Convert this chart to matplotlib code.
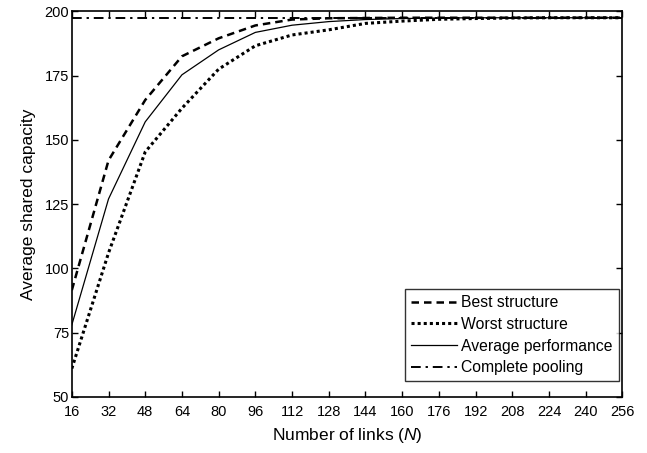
import numpy as np
import matplotlib
matplotlib.use("Agg")
import matplotlib.pyplot as plt

plt.rcParams['font.family'] = ['Liberation Sans', 'DejaVu Sans']
plt.rcParams['mathtext.fontset'] = 'custom'
plt.rcParams['mathtext.rm'] = 'Liberation Sans'
plt.rcParams['mathtext.it'] = 'Liberation Sans:italic'

# valores
links = [16, 32, 48, 64, 80, 96, 112, 128, 144, 160, 176, 192, 208, 224, 240, 256]
best = [91.5, 142, 165.5, 182.5, 189.5, 194.5, 196.8, 197.3, 197.4, 197.5,
        197.5, 197.5, 197.5, 197.5, 197.5, 197.5]
worst = [61, 106, 145.3, 162.3, 177.5, 186.6, 190.8, 192.8, 195.3, 196.2,
         196.9, 197.2, 197.4, 197.5, 197.5, 197.5]
average = [78, 127, 157, 175.3, 185, 191.8, 194.6, 196, 196.8, 197.2,
           197.4, 197.5, 197.5, 197.5, 197.5, 197.5]
pooling = [197.5] * len(links)

fig = plt.figure(figsize=(6.47, 4.53), dpi=100)
ax = fig.add_axes([0.111, 0.124, 0.851, 0.851])

ax.plot(links, best, color="black", lw=1.8, ls=(0, (3.0, 2.0)), label="Best structure")
ax.plot(links, worst, color="black", lw=2.2, ls=(0, (1, 1)), label="Worst structure")
ax.plot(links, average, color="black", lw=0.9, ls="-", label="Average performance")
ax.plot(links, pooling, color="black", lw=1.4, ls=(0, (5, 2.5, 1.2, 2.5)), label="Complete pooling")

ax.set_xlim(16, 256)
ax.set_ylim(50, 200)
ax.set_xticks(links)
ax.set_yticks([50, 75, 100, 125, 150, 175, 200])
ax.tick_params(direction="in", top=True, right=True, length=4, width=1,
               labelsize=10.5, colors="black")
ax.tick_params(axis="x", pad=6)
ax.tick_params(axis="y", pad=2)
for s in ax.spines.values():
    s.set_linewidth(1.2)

ax.set_xlabel("Number of links ($\\mathit{N}$)", fontsize=12.5, labelpad=5)
ax.set_ylabel("Average shared capacity", fontsize=12.5, labelpad=6)

leg = ax.legend(loc="lower right", bbox_to_anchor=(0.994, 0.04), fontsize=11.3,
                frameon=True, fancybox=False, edgecolor="black", handlelength=2.9,
                handletextpad=0.3, labelspacing=0.42, borderpad=0.4, borderaxespad=0)
leg.get_frame().set_linewidth(1.0)

fig.savefig("out.png", dpi=100)
